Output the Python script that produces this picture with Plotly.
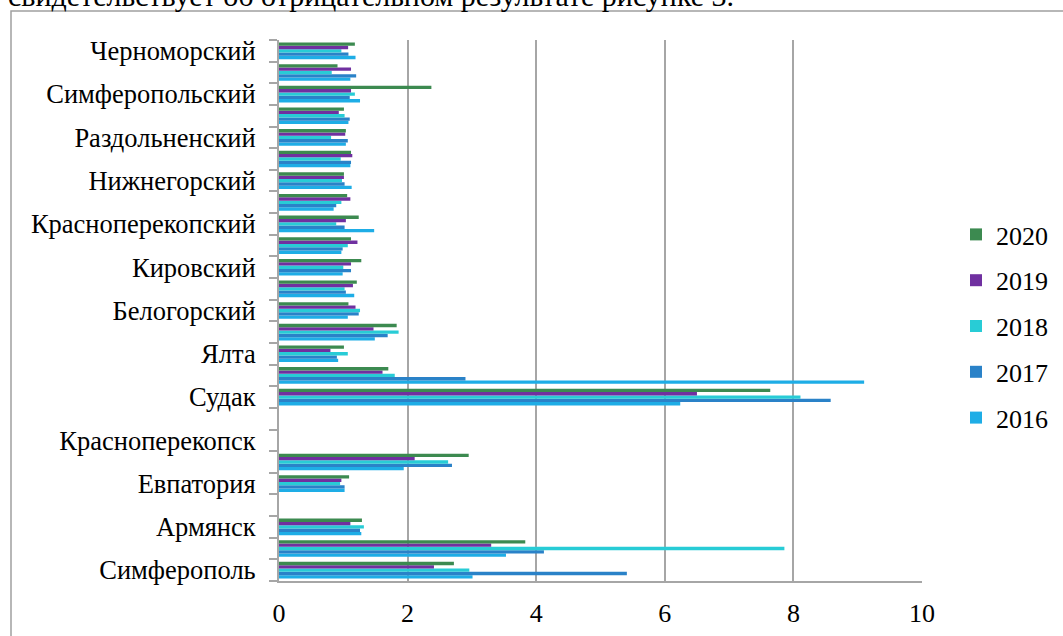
import plotly.graph_objects as go

# Categories from bottom to top
categories = ["Симферополь", "Алушта", "Армянск", "Джанкой", "Евпатория", "Керчь",
              "Красноперекопск", "Саки", "Судак", "Феодосия", "Ялта", "Бахчисарайский",
              "Белогорский", "Джанкойский", "Кировский", "Красногвардейский",
              "Красноперекопский", "Ленинский", "Нижнегорский", "Первомайский",
              "Раздольненский", "Сакский", "Симферопольский", "Советский", "Черноморский"]

# Only every other label is printed on the axis
tick_labels = ["Симферополь", "", "Армянск", "", "Евпатория", "", "Красноперекопск", "",
               "Судак", "", "Ялта", "", "Белогорский", "", "Кировский", "",
               "Красноперекопский", "", "Нижнегорский", "", "Раздольненский", "",
               "Симферопольский", "", "Черноморский"]

years = ["2016", "2017", "2018", "2019", "2020"]

v2016 = [3.01, 3.53, 1.28, None, 1.02, 1.94, None, None, 6.24, 9.10, 0.92, 1.49,
         1.07, 1.17, 0.99, 0.97, 1.48, 0.85, 1.13, 1.11, 1.04, 1.08, 1.26, 1.11, 1.19]
v2017 = [5.41, 4.12, 1.26, None, 1.02, 2.69, None, None, 8.58, 2.90, 0.90, 1.69,
         1.24, 1.04, 1.12, 0.99, 1.02, 0.89, 1.02, 1.12, 1.07, 1.10, 1.10, 1.20, 1.08]
v2018 = [2.96, 7.86, 1.32, None, 0.95, 2.63, None, None, 8.11, 1.80, 1.07, 1.86,
         1.26, 1.02, 1.00, 1.07, 0.89, 0.97, 0.98, 0.96, 0.81, 1.02, 1.18, 0.82, 0.97]
v2019 = [2.41, 3.30, 1.11, None, 0.97, 2.11, None, None, 6.50, 1.61, 0.80, 1.47,
         1.19, 1.15, 1.12, 1.22, 1.04, 1.11, 1.01, 1.14, 1.03, 0.93, 1.12, 1.12, 1.075]
v2020 = [2.72, 3.83, 1.29, None, 1.09, 2.95, None, None, 7.64, 1.70, 1.01, 1.83,
         1.08, 1.21, 1.28, 1.12, 1.24, 1.06, 1.01, 1.12, 1.04, 1.01, 2.37, 0.91, 1.18]

series = [v2016, v2017, v2018, v2019, v2020]
colors = ["#1EADE6", "#2A82C8", "#28CCD6", "#7030A0", "#3C8A50"]

x_ticks = [0, 2, 4, 6, 8, 10]

header_text = "свидетельствует об отрицательном результате рисунке 3."

FONT = "Liberation Serif"
GRID = "#A6A6A6"

fig = go.Figure()
for i, (yr, vals, col) in enumerate(zip(years, series, colors)):
    fig.add_trace(go.Bar(
        y=categories, x=vals, name=yr, orientation="h",
        marker=dict(color=col, line=dict(width=0)),
        legendgroup=yr, legendrank=len(years) - i,
    ))

L, R, T, B = 279, 141, 40, 55
W, H = 1063, 636
pw = W - L - R
ph = H - T - B

def px_x(x):
    return (x - L) / pw

def px_y(y):
    return (H - B - y) / ph

fig.update_layout(
    width=W, height=H,
    margin=dict(l=L, r=R, t=T, b=B, pad=0, autoexpand=False),
    paper_bgcolor="white", plot_bgcolor="white",
    barmode="group", bargap=0.23, bargroupgap=0,
    font=dict(family=FONT, size=25, color="black"),
    showlegend=True,
    legend=dict(
        traceorder="grouped",
        tracegroupgap=9,
        font=dict(family=FONT, size=26, color="black"),
        x=px_x(956), y=px_y(211), xanchor="left", yanchor="top",
        bgcolor="rgba(0,0,0,0)", borderwidth=0,
    ),
    xaxis=dict(
        range=[0, 10], tickmode="array", tickvals=x_ticks,
        ticktext=[str(v) for v in x_ticks],
        showgrid=True, gridcolor=GRID, gridwidth=2,
        zeroline=False, showline=True, linecolor=GRID, linewidth=2,
        ticks="", ticklabelstandoff=8, automargin=False,
        tickfont=dict(family=FONT, size=26, color="black"),
        fixedrange=True,
    ),
    yaxis=dict(
        type="category", categoryorder="array", categoryarray=categories,
        tickmode="array", tickvals=categories, ticktext=tick_labels,
        tickson="boundaries", ticks="outside", ticklen=8, tickwidth=2, tickcolor=GRID,
        showgrid=False, zeroline=False, showline=True, linecolor=GRID, linewidth=2,
        ticklabelstandoff=16, automargin=False,
        tickfont=dict(family=FONT, size=26.5, color="black"),
        range=[-0.5, len(categories) - 0.5],
        fixedrange=True,
    ),
    shapes=[dict(
        type="rect", xref="paper", yref="paper",
        x0=px_x(11), x1=px_x(1100), y0=px_y(700), y1=px_y(11),
        line=dict(color="#A0A0A0", width=1.5), fillcolor="rgba(0,0,0,0)",
        layer="below",
    )],
    annotations=[dict(
        text=header_text, xref="paper", yref="paper",
        x=px_x(6), y=px_y(-5), xanchor="left", yanchor="middle",
        showarrow=False, font=dict(family=FONT, size=30, color="black"),
    )],
)

fig.write_html(
    "out.html",
    config={"displayModeBar": False},
    post_script="document.body.style.margin='0';document.body.style.padding='0';",
)
